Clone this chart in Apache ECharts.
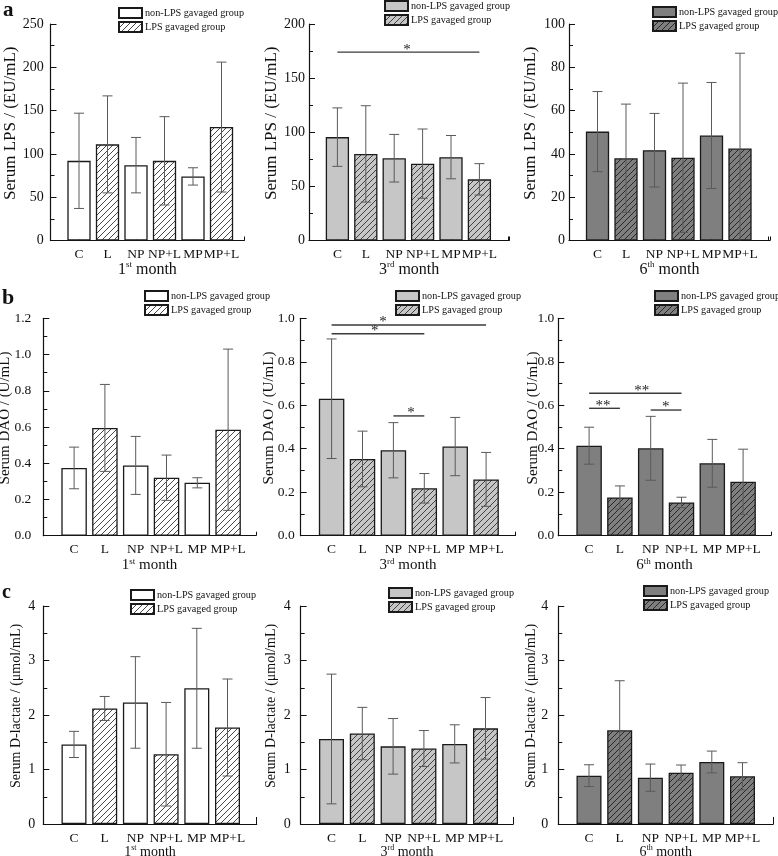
<!DOCTYPE html>
<html>
<head>
<meta charset="utf-8">
<script src="https://cdn.jsdelivr.net/npm/echarts@6/dist/echarts.min.js"></script>
<style>
html,body{margin:0;padding:0;background:#fff;}
#chart{width:778px;height:856px;}
</style>
</head>
<body>
<div id="chart"></div>
<script>
// ---------- data ----------
const categories = ['C', 'L', 'NP', 'NP+L', 'MP', 'MP+L'];
const monthTitles = ['1{s|st} month', '3{s|rd} month', '6{s|th} month'];
const legendNames = ['non-LPS gavaged group', 'LPS gavaged group'];

// a: Serum LPS (EU/mL)
const lpsMonth1 = [92, 111, 87, 92, 74, 131];
const lpsMonth1Sd = [55, 56, 32, 51, 10, 75];
const lpsMonth3 = [95.5, 80, 76, 71, 77, 56.5];
const lpsMonth3Sd = [27, 44.5, 22, 32, 20, 14.5];
const lpsMonth6 = [50.3, 38, 41.7, 38.2, 48.5, 42.5];
const lpsMonth6Sd = [18.5, 25, 17, 34.5, 24.5, 44];

// b: Serum DAO (U/mL)
const daoMonth1 = [0.374, 0.595, 0.388, 0.32, 0.292, 0.585];
const daoMonth1Sd = [0.115, 0.24, 0.16, 0.125, 0.028, 0.445];
const daoMonth3 = [0.63, 0.353, 0.393, 0.218, 0.41, 0.259];
const daoMonth3Sd = [0.275, 0.128, 0.127, 0.068, 0.134, 0.124];
const daoMonth6 = [0.414, 0.176, 0.402, 0.153, 0.333, 0.248];
const daoMonth6Sd = [0.085, 0.053, 0.147, 0.024, 0.11, 0.15];

// c: Serum D-lactate (umol/mL)
const dlacMonth1 = [1.46, 2.12, 2.23, 1.28, 2.49, 1.77];
const dlacMonth1Sd = [0.24, 0.22, 0.84, 0.95, 1.1, 0.89];
const dlacMonth3 = [1.56, 1.66, 1.425, 1.385, 1.47, 1.755];
const dlacMonth3Sd = [1.19, 0.48, 0.51, 0.33, 0.35, 0.565];
const dlacMonth6 = [0.887, 1.719, 0.85, 0.942, 1.138, 0.875];
const dlacMonth6Sd = [0.2, 0.91, 0.25, 0.14, 0.2, 0.25];

// significance brackets: [fromGroup, toGroup, y, starX, text]
const sigLps3 = [[1, 6, 174, 3.45, '*']];
const sigDao3 = [[1, 6, 0.969, 2.66, '*'], [1, 4, 0.929, 2.4, '*'], [3, 4, 0.551, 3.57, '*']];
const sigDao6 = [[1, 4, 0.655, 2.71, '**'], [1, 2, 0.586, 1.45, '**'], [3, 4, 0.578, 3.49, '*']];

// y axis
const rowNames = ['Serum LPS / (EU/mL)', 'Serum DAO / (U/mL)', 'Serum D-lactate / (\u03bcmol/mL)'];
const yMax = [250, 200, 100, 1.2, 1.0, 1.0, 4, 4, 4];
const yInterval = [50, 50, 20, 0.2, 0.2, 0.2, 1, 1, 1];

const means = [lpsMonth1, lpsMonth3, lpsMonth6, daoMonth1, daoMonth3, daoMonth6, dlacMonth1, dlacMonth3, dlacMonth6];
const sds = [lpsMonth1Sd, lpsMonth3Sd, lpsMonth6Sd, daoMonth1Sd, daoMonth3Sd, daoMonth6Sd, dlacMonth1Sd, dlacMonth3Sd, dlacMonth6Sd];
const sigs = [[], sigLps3, [], [], sigDao3, sigDao6, [], [], []];

// ---------- layout / style ----------
const FONT = 'Liberation Serif';
const panelLeft = [50.5, 309, 569, 43.3, 300.7, 558.3, 43.3, 300.7, 558.3];
const panelUnit = [28.5, 28.4, 28.5, 30.8, 30.9, 30.8, 30.7, 30.8, 30.7];
const panelXMax = [6.8, 7.05, 7.05, 6.9, 6.95, 6.9, 6.95, 6.9, 7.0];
const rowTop = [24, 318.3, 606];
const rowBottom = [240.5, 535.7, 824];
const barWidthRow = [23.3, 25.5, 25];
const tickLenRow = [4, 4, 7];
const nameGapY = [31.7, 29, 30, 31, 24, 18, 20, 22, 20];
const labelMarginY = [6.7, 4, 4, 12, 6, 4, 8, 10, 10];
const nameSizeY = [17, 15, 14];
const nameSizeX = [16, 15, 14];
const nameGapX = [20, 21, 20];
const labelMarginX = [7, 7, 7];
const fills = ['#ffffff', '#c6c6c6', '#7f7f7f'];
const legendPos = [[118, 7], [384, 0], [652, 6], [144, 290], [395, 290], [654, 290], [130, 589], [388, 587], [643, 585]];

function hatch(bg, line) {
  const c = document.createElement('canvas');
  c.width = 6; c.height = 6;
  const g = c.getContext('2d');
  g.fillStyle = bg; g.fillRect(0, 0, 6, 6);
  g.strokeStyle = line; g.lineWidth = 0.9;
  g.beginPath();
  g.moveTo(-1, 7); g.lineTo(7, -1);
  g.moveTo(-1, 1); g.lineTo(1, -1);
  g.moveTo(5, 7); g.lineTo(7, 5);
  g.stroke();
  return { image: c, repeat: 'repeat' };
}

const grids = [], xAxes = [], yAxes = [], series = [], legends = [];
const nameMap = {};

for (let p = 0; p < 9; p++) {
  const row = Math.floor(p / 3), col = p % 3;
  const top = rowTop[row], bottom = rowBottom[row];
  grids.push({ left: panelLeft[p], top: top, width: panelUnit[p] * panelXMax[p], height: bottom - top,
    containLabel: false, outerBoundsMode: 'none' });
  xAxes.push({
    type: 'value', gridIndex: p, min: 0, max: panelXMax[p], interval: 1,
    name: monthTitles[col], nameLocation: 'middle', nameGap: nameGapX[row], nameMoveOverlap: false,
    nameTextStyle: { fontFamily: FONT, fontSize: nameSizeX[row], color: '#111', lineHeight: nameSizeX[row] + 2,
      rich: { s: { fontFamily: FONT, fontSize: Math.round(nameSizeX[row] * 0.58), color: '#111', verticalAlign: 'top', lineHeight: 10 } } },
    axisLine: { show: true, onZero: false, lineStyle: { color: '#111', width: 1.2 } },
    axisTick: { show: true, inside: true, length: tickLenRow[row], lineStyle: { color: '#111', width: 1 } },
    axisLabel: { fontFamily: FONT, fontSize: 13.5, color: '#111', margin: labelMarginX[row],
      formatter: function (v) { return (Math.abs(v - Math.round(v)) < 1e-6 && v >= 1 && v <= 6) ? categories[Math.round(v) - 1] : ''; } },
    splitLine: { show: false }
  });
  yAxes.push({
    type: 'value', gridIndex: p, min: 0, max: yMax[p], interval: yInterval[p],
    name: rowNames[row], nameLocation: 'middle', nameGap: nameGapY[p], nameRotate: 90, nameMoveOverlap: false,
    nameTextStyle: { fontFamily: FONT, fontSize: nameSizeY[row], color: '#111', padding: [0, 0, 0, 18] },
    axisLine: { show: true, lineStyle: { color: '#111', width: 1.2 } },
    axisTick: { show: true, inside: true, length: 6, lineStyle: { color: '#111', width: 1 } },
    minorTick: { show: true, splitNumber: 2, length: 4, lineStyle: { color: '#111', width: 1 } },
    axisLabel: { fontFamily: FONT, fontSize: row === 1 ? 13.5 : 14, color: '#111', margin: labelMarginY[p],
      formatter: function (v) { return row === 1 ? v.toFixed(1) : String(Math.round(v)); } },
    splitLine: { show: false }
  });

  const m = means[p], s = sds[p];
  const nonName = 'p' + p + 'n', lpsName = 'p' + p + 'l';
  nameMap[nonName] = legendNames[0];
  nameMap[lpsName] = legendNames[1];
  const border = { borderColor: '#1a1a1a', borderWidth: 1.3 };
  series.push({
    type: 'bar', name: nonName, xAxisIndex: p, yAxisIndex: p, barWidth: barWidthRow[row], barGap: '-100%',
    data: [0, 2, 4].map(k => [k + 1, m[k]]),
    itemStyle: Object.assign({ color: fills[col] }, border), z: 2, silent: true
  });
  series.push({
    type: 'bar', name: lpsName, xAxisIndex: p, yAxisIndex: p, barWidth: barWidthRow[row], barGap: '-100%',
    data: [1, 3, 5].map(k => [k + 1, m[k]]),
    itemStyle: Object.assign({ color: hatch(fills[col], col === 2 ? '#1e1e1e' : '#333') }, border), z: 2, silent: true
  });
  series.push({
    type: 'custom', xAxisIndex: p, yAxisIndex: p, z: 4, clip: true, silent: true,
    data: categories.map((c, k) => [k + 1, m[k], s[k]]),
    renderItem: function (params, api) {
      const x = api.value(0), mv = api.value(1), sv = api.value(2);
      const t = api.coord([x, mv + sv]), b = api.coord([x, mv - sv]);
      const hw = 5, st = { stroke: '#5a5a5a', lineWidth: 1 };
      return { type: 'group', children: [
        { type: 'line', shape: { x1: t[0], y1: t[1], x2: b[0], y2: b[1] }, style: st },
        { type: 'line', shape: { x1: t[0] - hw, y1: t[1], x2: t[0] + hw, y2: t[1] }, style: st },
        { type: 'line', shape: { x1: b[0] - hw, y1: b[1], x2: b[0] + hw, y2: b[1] }, style: st }
      ] };
    }
  });
  if (sigs[p].length) {
    series.push({
      type: 'custom', xAxisIndex: p, yAxisIndex: p, z: 5, clip: false, silent: true,
      data: sigs[p],
      renderItem: function (params, api) {
        const d = sigs[p][params.dataIndex];
        const a = api.coord([d[0], d[2]]), b = api.coord([d[1], d[2]]), sx = api.coord([d[3], d[2]]);
        return { type: 'group', children: [
          { type: 'line', shape: { x1: a[0], y1: a[1], x2: b[0], y2: b[1] }, style: { stroke: '#3a3a3a', lineWidth: 1.4 } },
          { type: 'text', style: { text: d[4], x: sx[0], y: a[1] + 5, textAlign: 'center', textVerticalAlign: 'bottom',
            fontFamily: FONT, fontSize: 15, fill: '#222' } }
        ] };
      }
    });
  }
  legends.push({
    data: [nonName, lpsName], orient: 'vertical', left: legendPos[p][0], top: legendPos[p][1],
    itemWidth: 23, itemHeight: 10, itemGap: 2, padding: 0, selectedMode: false,
    icon: 'rect',
    textStyle: { fontFamily: FONT, fontSize: 10.2, color: '#111', lineHeight: 12, padding: [0, 0, 0, -2] },
    formatter: function (n) { return nameMap[n]; }
  });
}

const chart = echarts.init(document.getElementById('chart'), null, { renderer: 'canvas' });
chart.setOption({
  animation: false,
  backgroundColor: '#fff',
  grid: grids, xAxis: xAxes, yAxis: yAxes, series: series, legend: legends,
  graphic: [
    { type: 'text', left: 3, top: 0, style: { text: 'a', fontFamily: FONT, fontSize: 21, fontWeight: 'bold', fill: '#111' } },
    { type: 'text', left: 2, top: 287, style: { text: 'b', fontFamily: FONT, fontSize: 22, fontWeight: 'bold', fill: '#111' } },
    { type: 'text', left: 2, top: 583, style: { text: 'c', fontFamily: FONT, fontSize: 20, fontWeight: 'bold', fill: '#111' } }
  ]
});
</script>
</body>
</html>
